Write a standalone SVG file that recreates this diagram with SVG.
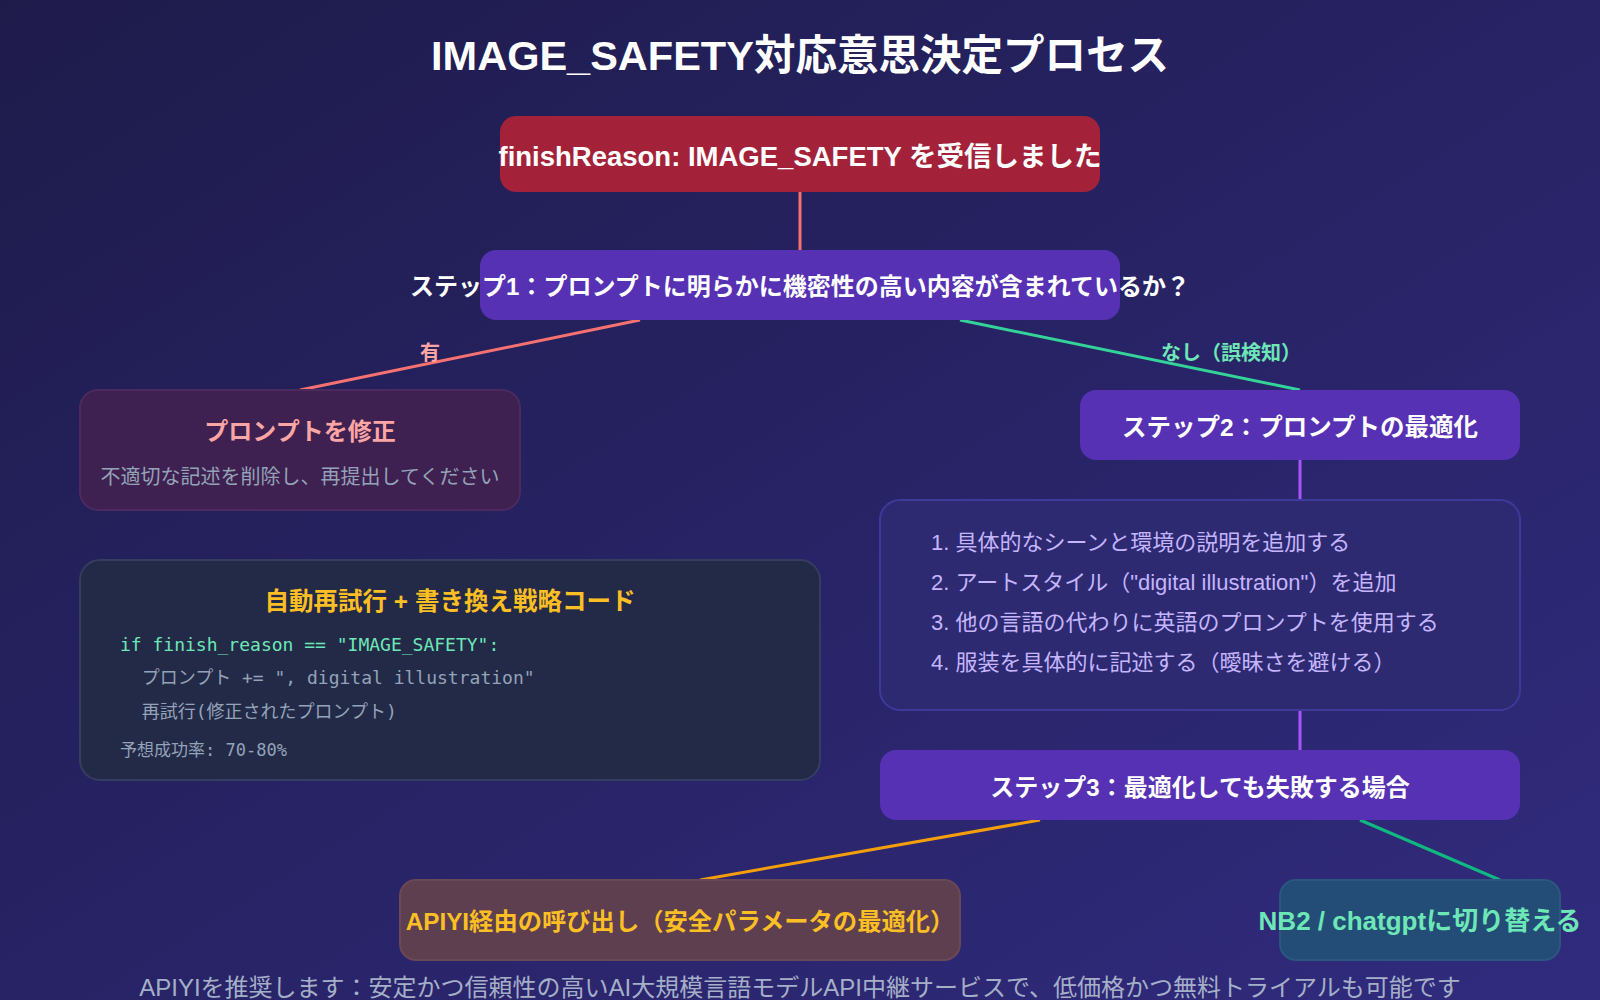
<svg xmlns="http://www.w3.org/2000/svg" width="1600" height="1000" viewBox="0 0 1600 1000">
  <defs>
    <linearGradient id="bg" x1="0" y1="0" x2="1" y2="1">
      <stop offset="0" stop-color="#1e1b4b"/>
      <stop offset="1" stop-color="#312b7e"/>
    </linearGradient>
    <style>
      text { font-family: "Liberation Sans", "Noto Sans CJK JP", sans-serif; }
      .b { font-weight: 700; }
      .c { text-anchor: middle; }
      .step { fill: #5631b3; }
      .white { fill: #ffffff; }
      .mono { font-family: "DejaVu Sans Mono", "Liberation Mono", "Noto Sans CJK JP", monospace; }
      .conn { fill: none; stroke-width: 3; }
      .tip { fill: #c4b5fd; font-size: 22px; }
    </style>
  </defs>
  <rect x="0" y="0" width="1600" height="1000" fill="url(#bg)"/>

  <text id="title" x="800" y="70" class="b c white" font-size="41.5">IMAGE_SAFETY対応意思決定プロセス</text>

  <g id="connectors">
    <line class="conn" x1="800" y1="192" x2="800" y2="250" stroke="#f87171"/>
    <line class="conn" x1="640" y1="320" x2="300" y2="390" stroke="#f87171"/>
    <line class="conn" x1="960" y1="320" x2="1300" y2="390" stroke="#34d399"/>
    <line class="conn" x1="1300" y1="460" x2="1300" y2="500" stroke="#a855f7"/>
    <line class="conn" x1="1300" y1="710" x2="1300" y2="750" stroke="#a855f7"/>
    <line class="conn" x1="1040" y1="820" x2="700" y2="880" stroke="#f59e0b"/>
    <line class="conn" x1="1360" y1="820" x2="1500" y2="880" stroke="#10b981"/>
    <text x="430" y="360" class="b c" font-size="20" fill="#fca5a5">有</text>
    <text x="1231" y="360" class="b c" font-size="20" fill="#6ee7b7">なし（誤検知）</text>
  </g>

  <g id="start">
    <rect x="500" y="116" width="600" height="76" rx="16" fill="#a3223a"/>
    <text x="800" y="166" class="b c white" font-size="27.5">finishReason: IMAGE_SAFETY を受信しました</text>
  </g>

  <g id="step1">
    <rect x="480" y="250" width="640" height="70" rx="16" class="step"/>
    <text x="800" y="295" class="b c white" font-size="24">ステップ1：プロンプトに明らかに機密性の高い内容が含まれているか？</text>
  </g>

  <g id="fix-prompt">
    <rect x="80" y="390" width="440" height="120" rx="18" fill="#3e2150" stroke="#4c2a60" stroke-width="2"/>
    <text x="300" y="440" class="b c" font-size="24" fill="#fca5a5">プロンプトを修正</text>
    <text x="300" y="484" class="c" font-size="20" fill="#94a3b8">不適切な記述を削除し、再提出してください</text>
  </g>

  <g id="code">
    <rect x="80" y="560" width="740" height="220" rx="20" fill="#222a48" stroke="#353d60" stroke-width="2"/>
    <text x="450" y="610" class="b c" font-size="24.5" fill="#fbbf24">自動再試行 + 書き換え戦略コード</text>
    <text x="120" y="651" class="mono" font-size="18" fill="#6ee7b7">if finish_reason == "IMAGE_SAFETY":</text>
    <text x="120" y="684" class="mono" font-size="18" fill="#94a3b8" xml:space="preserve">  プロンプト += ", digital illustration"</text>
    <text x="120" y="718" class="mono" font-size="18" fill="#94a3b8" xml:space="preserve">  再試行(修正されたプロンプト)</text>
    <text x="120" y="756" class="mono" font-size="17" fill="#94a3b8">予想成功率: 70-80%</text>
  </g>

  <g id="step2">
    <rect x="1080" y="390" width="440" height="70" rx="16" class="step"/>
    <text x="1300" y="436" class="b c white" font-size="24.5">ステップ2：プロンプトの最適化</text>
  </g>

  <g id="tips">
    <rect x="880" y="500" width="640" height="210" rx="20" fill="#2d2a72" stroke="#3d3a9c" stroke-width="2"/>
    <text x="931" y="550" class="tip">1. 具体的なシーンと環境の説明を追加する</text>
    <text x="931" y="590" class="tip">2. アートスタイル（"digital illustration"）を追加</text>
    <text x="931" y="630" class="tip">3. 他の言語の代わりに英語のプロンプトを使用する</text>
    <text x="931" y="670" class="tip">4. 服装を具体的に記述する（曖昧さを避ける）</text>
  </g>

  <g id="step3">
    <rect x="880" y="750" width="640" height="70" rx="16" class="step"/>
    <text x="1200" y="796" class="b c white" font-size="24">ステップ3：最適化しても失敗する場合</text>
  </g>

  <g id="apiyi">
    <rect x="400" y="880" width="560" height="80" rx="16" fill="#5e3f50" stroke="#6a4858" stroke-width="2"/>
    <text x="680" y="930" class="b c" font-size="24.3" fill="#fbbf24">APIYI経由の呼び出し（安全パラメータの最適化）</text>
  </g>

  <g id="switch">
    <rect x="1280" y="880" width="280" height="80" rx="16" fill="#234d77" stroke="#2a5680" stroke-width="2"/>
    <text x="1420" y="930" class="b c" font-size="26" fill="#6ee7b7">NB2 / chatgptに切り替える</text>
  </g>

  <text id="footer" x="800" y="996" class="c" font-size="24" fill="#a5b0c8">APIYIを推奨します：安定かつ信頼性の高いAI大規模言語モデルAPI中継サービスで、低価格かつ無料トライアルも可能です</text>
</svg>
